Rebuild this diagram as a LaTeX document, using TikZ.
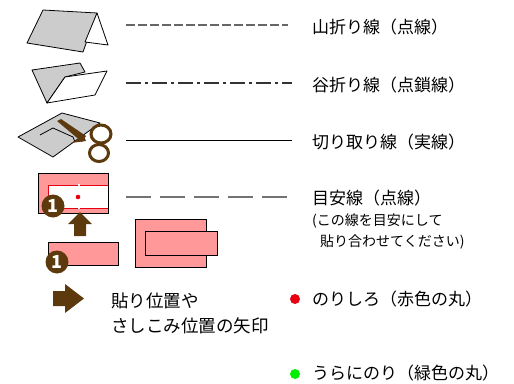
\documentclass[tikz,border=0pt]{standalone}
\usepackage{fontspec}
\setmainfont{Noto Sans CJK JP}
\definecolor{kogecha}{RGB}{92,58,14}
\definecolor{nori}{RGB}{255,153,153}
\definecolor{akamaru}{RGB}{230,0,18}
\definecolor{midori}{RGB}{0,238,0}
\tikzset{
  legend/.style={anchor=west,inner sep=0pt,font=\fontsize{17}{19}\selectfont},
  note/.style={anchor=west,inner sep=0pt,font=\fontsize{14}{16}\selectfont},
  paper/.style={draw=black,fill=gray!40,line width=0.8pt,line join=round},
  sheet/.style={draw=black,fill=white,line width=0.8pt,line join=round},
  glue/.style={draw=black,fill=nori,line width=0.8pt},
  badge/.style={circle,fill=kogecha,text=white,inner sep=0pt,minimum size=23pt,
    font=\bfseries\fontsize{18}{18}\selectfont},
}

\begin{document}
\begin{tikzpicture}[x=1pt,y=-1pt]
    \useasboundingbox (0,0) rectangle (514,383);
    % mountain fold
    \draw[paper] (27,43) -- (43,10) -- (97,13) -- (83,52) -- cycle;
    \draw[sheet] (97,13) -- (108,45) -- (85,42) -- cycle;
    % valley fold
    \draw[paper] (32,70) -- (80,63) -- (85,72) -- (65,77) -- (47,103) -- cycle;
    \draw[sheet] (47,103) -- (65,77) -- (107,71) -- (95,95) -- cycle;
    % cut sheet with scissors
    \draw[paper] (18,137) -- (62,113) -- (100,123) -- (53,157) -- cycle;
    \draw[line width=0.8pt] (40,135) -- (53,128) -- (73,137) -- (75,142);
    \fill[kogecha] (57,121) -- (61,119) -- (86,136) -- (82,142) -- cycle;
    \fill[kogecha] (71,143) -- (84,136) -- (86,141) -- cycle;
    \draw[kogecha,line width=3pt] (101,134) ellipse[x radius=10,y radius=9];
    \draw[kogecha,line width=3pt] (99,153) ellipse[x radius=9.5,y radius=8.5];
    % guide line sample
    \draw[glue] (38,173) rectangle (108,213);
    \fill[white] (48,185) rectangle (108,208);
    \draw[akamaru,line width=0.8pt] (108,185) -- (48,185) -- (48,208) -- (108,208);
    \draw[white,line width=1.2pt] (79,184) -- (79,187) (79,206) -- (79,209);
    \fill[akamaru] (78,197) circle[radius=2.3];
    \node[badge] (no1a) at (53,206) {1};
    \fill[kogecha] (80,212) -- (92,224) -- (86,224) -- (86,236)
        -- (74,236) -- (74,224) -- (68,224) -- cycle;
    \draw[glue] (48,242) rectangle (118,265);
    \node[badge] (no1b) at (57,262) {1};
    \draw[glue] (135,219) rectangle (206,267);
    \draw[glue] (145,231) rectangle (217,255);
    \fill[kogecha] (53,291) -- (65,291) -- (65,284) -- (84,298.5)
        -- (65,313) -- (65,306) -- (53,306) -- cycle;
    % legend lines
    \coordinate (yama0) at (126,25);  \coordinate (yama1) at (288,25);
    \coordinate (tani0) at (126,83);  \coordinate (tani1) at (292,83);
    \coordinate (kiri0) at (126,140); \coordinate (kiri1) at (292,140);
    \coordinate (meya0) at (126,197); \coordinate (meya1) at (292,197);
    \draw[gray!80!black,line width=1.1pt,dash pattern=on 9pt off 3pt] (yama0) -- (yama1);
    \draw[black!80,line width=1.1pt,dash pattern=on 15pt off 4pt on 3pt off 4pt] (tani0) -- (tani1);
    \draw[black,line width=1pt] (kiri0) -- (kiri1);
    \draw[gray!90!black,line width=1.1pt,dash pattern=on 25pt off 9pt] (meya0) -- (meya1);
    % labels
    \node[legend] (yamaori) at (312,27) {山折り線（点線）};
    \node[legend] (taniori) at (312,85) {谷折り線（点鎖線）};
    \node[legend] (kiritori) at (312,142) {切り取り線（実線）};
    \node[legend] (meyasu) at (312,198) {目安線（点線）};
    \node[note] (meyasu1) at (312,221) {(この線を目安にして};
    \node[note] (meyasu2) at (320,242) {貼り合わせてください)};
    \node[legend,font=\fontsize{17.5}{19}\selectfont] (yajirushi1) at (111,301) {貼り位置や};
    \node[legend,font=\fontsize{17.5}{19}\selectfont] (yajirushi2) at (111,326) {さしこみ位置の矢印};
    \fill[akamaru] (295,299) circle[radius=5];
    \node[legend] (norishiro) at (312,299) {のりしろ（赤色の丸）};
    \fill[midori] (295,374) circle[radius=5];
    \node[legend] (uranori) at (312,373) {うらにのり（緑色の丸）};
\end{tikzpicture}
\end{document}
